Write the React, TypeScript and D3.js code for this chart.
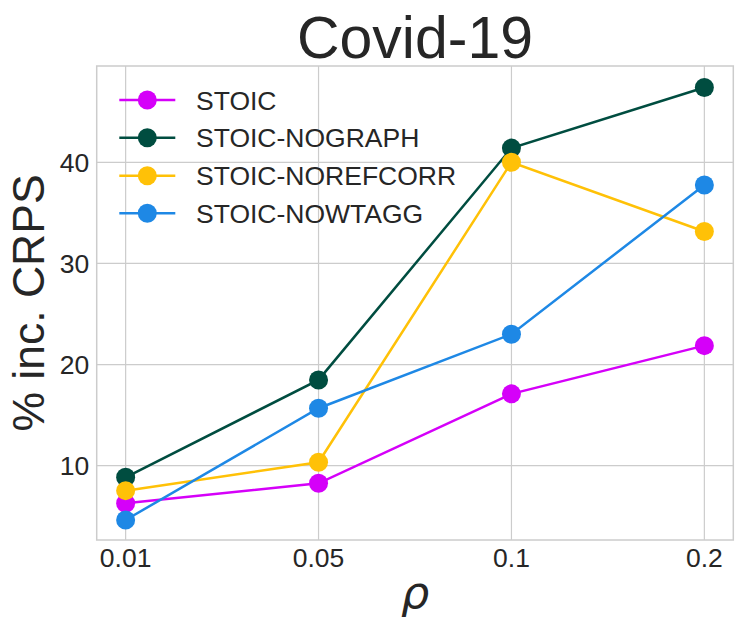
import React from "react";
import * as d3 from "d3";

const rhoLabels = ["0.01", "0.05", "0.1", "0.2"];
const seriesNames = ["STOIC", "STOIC-NOGRAPH", "STOIC-NOREFCORR", "STOIC-NOWTAGG"];
const seriesColors = ["#D500F9", "#004D40", "#FFC107", "#1E88E5"];
const stoic = [6.28, 8.26, 17.1, 21.87];
const stoicNoGraph = [8.85, 18.48, 41.4, 47.4];
const stoicNoRefCorr = [7.53, 10.34, 40.0, 33.15];
const stoicNoWtAgg = [4.63, 15.68, 23.0, 37.76];
const yTicks = [10, 20, 30, 40];

const seriesValues = [stoic, stoicNoGraph, stoicNoRefCorr, stoicNoWtAgg];

const W = 747;
const H = 633;
const L = 96.7;
const R = 733.3;
const T = 66;
const B = 540;
const TXT = "#262626";
const GRID = "#cccccc";
const FONT = "'Liberation Sans', Arial, Helvetica, sans-serif";

export default function App() {
  const x = d3.scalePoint<string>().domain(rhoLabels).range([L, R]).padding(0.15);
  const y = d3.scaleLinear().domain([2.65, 49.52]).range([B, T]);
  const line = d3
    .line<number>()
    .x((_, i) => x(rhoLabels[i]) as number)
    .y((d) => y(d));

  const legendRows = [100, 137.7, 175.7, 213.3];

  return (
    <svg
      width={W}
      height={H}
      viewBox={`0 0 ${W} ${H}`}
      style={{ position: "absolute", left: 0, top: 0, background: "#fff" }}
    >
      <rect x={0} y={0} width={W} height={H} fill="#fff" />
      {/* grid */}
      {yTicks.map((t) => (
        <line key={"gy" + t} x1={L} x2={R} y1={y(t)} y2={y(t)} stroke={GRID} strokeWidth={1.2} />
      ))}
      {rhoLabels.map((c) => (
        <line key={"gx" + c} x1={x(c)} x2={x(c)} y1={T} y2={B} stroke={GRID} strokeWidth={1.2} />
      ))}
      {/* frame */}
      <rect x={L} y={T} width={R - L} height={B - T} fill="none" stroke={GRID} strokeWidth={1.5} />

      {/* series */}
      {seriesValues.map((vals, si) => (
        <g key={seriesNames[si]}>
          <path d={line(vals) || ""} fill="none" stroke={seriesColors[si]} strokeWidth={2.5} />
          {vals.map((v, i) => (
            <circle key={i} cx={x(rhoLabels[i])} cy={y(v)} r={9.5} fill={seriesColors[si]} />
          ))}
        </g>
      ))}

      {/* y ticks */}
      {yTicks.map((t) => (
        <text
          key={"ty" + t}
          x={89.3}
          y={y(t) + 9.5}
          textAnchor="end"
          fontFamily={FONT}
          fontSize={26.5}
          fill={TXT}
        >
          {t}
        </text>
      ))}
      {/* x ticks */}
      {rhoLabels.map((c) => (
        <text
          key={"tx" + c}
          x={x(c)}
          y={567}
          textAnchor="middle"
          fontFamily={FONT}
          fontSize={26.5}
          fill={TXT}
        >
          {c}
        </text>
      ))}

      {/* legend */}
      {seriesNames.map((n, i) => (
        <g key={"lg" + n}>
          <line x1={119.3} x2={175.3} y1={legendRows[i]} y2={legendRows[i]} stroke={seriesColors[i]} strokeWidth={2.5} />
          <circle cx={147.3} cy={legendRows[i]} r={9.5} fill={seriesColors[i]} />
          <text x={196} y={legendRows[i] + 9.5} fontFamily={FONT} fontSize={26.5} fill={TXT}>
            {n}
          </text>
        </g>
      ))}

      {/* title */}
      <text x={(L + R) / 2} y={58.3} textAnchor="middle" fontFamily={FONT} fontSize={59} fill={TXT}>
        Covid-19
      </text>

      {/* y label */}
      <text
        transform={`translate(43.5, ${(T + B) / 2}) rotate(-90)`}
        textAnchor="middle"
        fontFamily={FONT}
        fontSize={44.5}
        fill={TXT}
      >
        % inc. CRPS
      </text>

      {/* x label */}
      <text
        x={(L + R) / 2}
        y={608}
        textAnchor="middle"
        fontFamily="'DejaVu Sans', sans-serif"
        fontStyle="italic"
        fontSize={44.5}
        fill={TXT}
      >
        ρ
      </text>
    </svg>
  );
}
